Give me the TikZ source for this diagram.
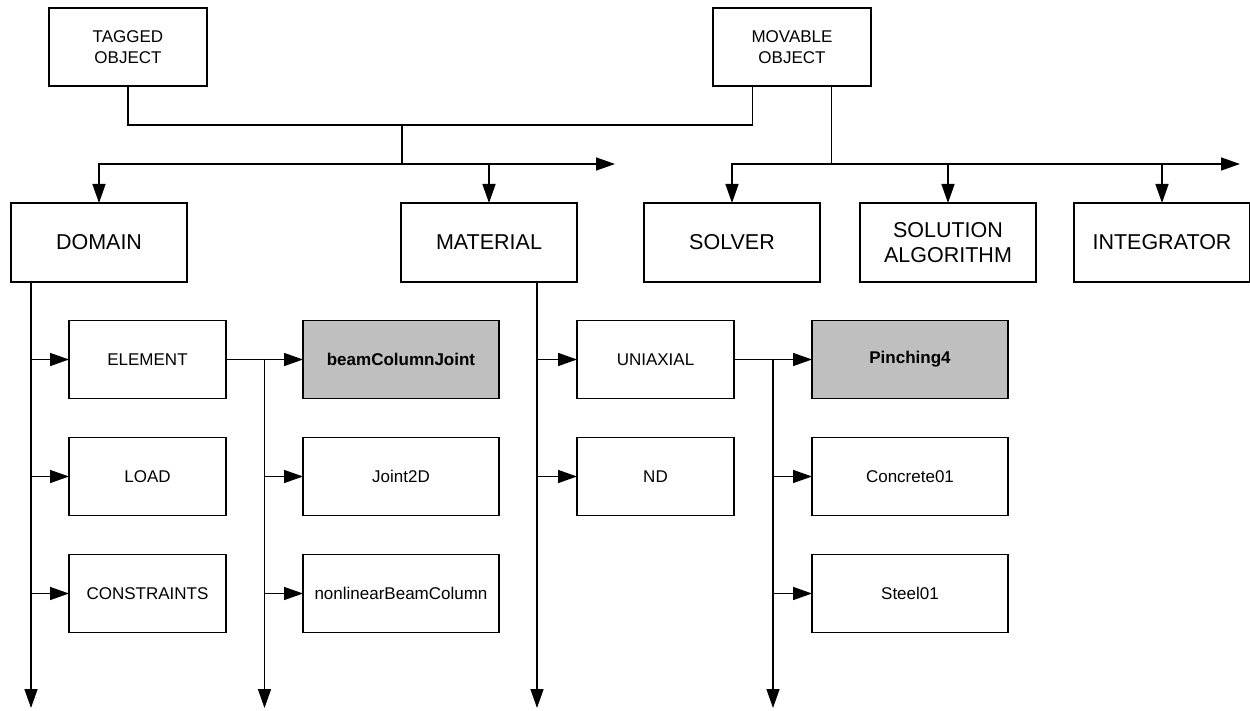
\documentclass[tikz,border=0pt]{standalone}
\usepackage{fontspec}
\setmainfont{Liberation Sans}
\usetikzlibrary{positioning, arrows.meta}

\begin{document}
\begin{tikzpicture}[x=1pt, y=-1pt, font=\fontsize{17}{21}\selectfont]
        \tikzstyle{block} = [rectangle, draw, line width=1.5pt, align=center, inner sep=0pt, outer sep=0pt, minimum height=78pt]
        \tikzstyle{topblock} = [block, minimum width=158pt]
        \tikzstyle{mainblock} = [block, line width=2.5pt, minimum width=176pt, minimum height=79pt, font=\fontsize{21.5}{25}\selectfont]
        \tikzstyle{subblock} = [block, minimum width=157pt]
        \tikzstyle{typeblock} = [block, minimum width=196pt]
        \tikzstyle{picked} = [fill=black!25, font=\fontsize{17}{21}\selectfont\bfseries]
        \tikzstyle{link} = [line width=1.5pt]
        \tikzstyle{line} = [link, -{Triangle[length=19pt, width=13pt]}]
        \useasboundingbox (0,0) rectangle (1250,711);

        \node (tag) [topblock] at (128,47) {TAGGED\\OBJECT};
        \node (mov) [topblock, right=506pt of tag] {MOVABLE\\OBJECT};

        \node (dom) [mainblock] at (99,242.5) {DOMAIN};
        \node (mat) [mainblock, right=214pt of dom] {MATERIAL};
        \node (solv) [mainblock, right=67pt of mat] {SOLVER};
        \node (alg) [mainblock, right=40pt of solv] {SOLUTION\\ALGORITHM};
        \node (integ) [mainblock, right=38pt of alg] {INTEGRATOR};

        \node (ele) [subblock] at (147.5,359.5) {ELEMENT};
        \node (load) [subblock, below=39pt of ele] {LOAD};
        \node (cons) [subblock, below=39pt of load] {CONSTRAINTS};
        \node (bcj) [typeblock, picked, right=77pt of ele] {beamColumnJoint};
        \node (jnt) [typeblock, below=39pt of bcj] {Joint2D};
        \node (nlbc) [typeblock, below=39pt of jnt] {nonlinearBeamColumn};
        \node (uni) [subblock, right=78pt of bcj] {UNIAXIAL};
        \node (nd) [subblock, below=39pt of uni] {ND};
        \node (pin) [typeblock, picked, right=78pt of uni] {Pinching4};
        \node (con) [typeblock, below=39pt of pin] {Concrete01};
        \node (stl) [typeblock, below=39pt of con] {Steel01};

        \coordinate (jt) at (402,125);
        \coordinate (jb) at (402,164);
        \coordinate (lend) at (615,164);
        \coordinate (rend) at (1240,164);
        \coordinate (bot) at (0,708);
        \coordinate (movl) at ([xshift=-39.5pt]mov.south);
        \coordinate (movr) at ([xshift=39.5pt]mov.south);
        \coordinate (kb) at (movr |- jb);
        \coordinate (dtr) at ([xshift=20pt]dom.south west);
        \coordinate (mtr) at ([xshift=-40pt]mat.south east);
        \coordinate (ebr) at ([xshift=38.5pt]ele.east);
        \coordinate (ubr) at ([xshift=39pt]uni.east);

        % top buses
        \draw [link] (tag) |- (jt) -| (movl);
        \draw [link] (jt) -- (jb);
        \draw [line] (jb) -| (dom);
        \draw [line] (jb) -| (mat);
        \draw [line] (jb) -- (lend);
        \draw [line width=2.8pt] ([xshift=-62pt]lend) -- ([xshift=-40pt]lend);
        \draw [link] (movr) -- (kb);
        \draw [line] (kb) -| (solv);
        \draw [line] (kb) -| (alg);
        \draw [line] (kb) -| (integ);
        \draw [line] (kb) -- (rend);

        % trunks
        \draw [line] (dtr) -- (dtr |- bot);
        \draw [line] (mtr) -- (mtr |- bot);
        \draw [line] (ebr) -- (ebr |- bot);
        \draw [line] (ubr) -- (ubr |- bot);

        \draw [line] (dtr |- ele) -- (ele);
        \draw [line] (dtr |- load) -- (load);
        \draw [line] (dtr |- cons) -- (cons);
        \draw [line] (ele) -- (bcj);
        \draw [line] (ebr |- jnt) -- (jnt);
        \draw [line] (ebr |- nlbc) -- (nlbc);
        \draw [line] (mtr |- uni) -- (uni);
        \draw [line] (mtr |- nd) -- (nd);
        \draw [line] (uni) -- (pin);
        \draw [line] (ubr |- con) -- (con);
        \draw [line] (ubr |- stl) -- (stl);
\end{tikzpicture}
\end{document}
